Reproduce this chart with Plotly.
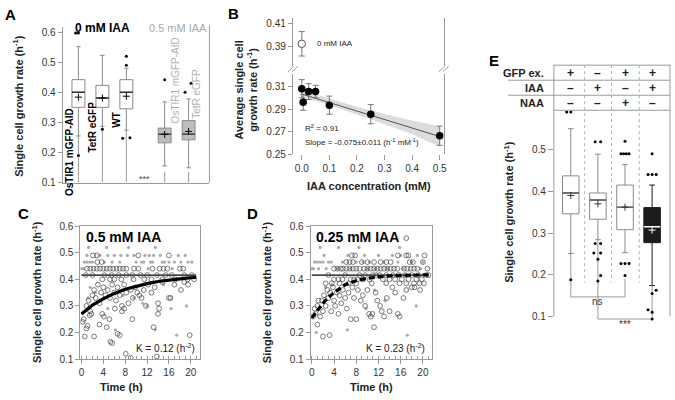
import plotly.graph_objects as go

W, H = 675, 400
FONT = "Liberation Sans, Arial, sans-serif"
AX = "#9a9a9a"

# %% panel A: box statistics (0 mM IAA vs 0.5 mM IAA)
a_pos = [1, 2, 3, 4.6, 5.6]
a_q1 = [0.350, 0.350, 0.345, 0.232, 0.242]
a_med = [0.400, 0.381, 0.400, 0.261, 0.261]
a_q3 = [0.442, 0.423, 0.442, 0.281, 0.306]
a_lo = [0.255, 0.287, 0.274, 0.155, 0.149]
a_hi = [0.552, 0.523, 0.480, 0.368, 0.378]
a_mean = [0.384, 0.381, 0.387, 0.260, 0.270]
a_out_x = [0.88, 1.0, 1.0, 2.0, 3.0, 3.0, 2.85, 3.15, 4.6, 5.45, 5.7]
a_out_y = [0.597, 0.597, 0.19, 0.277, 0.52, 0.49, 0.247, 0.249, 0.442, 0.40, 0.43]

# %% panel B: average growth rate vs IAA concentration
b_conc = [0, 0.005, 0.025, 0.05, 0.1, 0.25, 0.5]
b_rate = [0.308, 0.296, 0.3055, 0.3055, 0.2935, 0.2855, 0.2665]
b_err = [0.008, 0.007, 0.007, 0.0055, 0.008, 0.0085, 0.0085]
b_ctrl_rate = [0.3925]
b_ctrl_err = [0.0105]
b_fit_x = [0, 0.5]
b_fit_y = [0.3033, 0.2658]
b_band_x = [0, 0.05, 0.1, 0.2, 0.3, 0.4, 0.5]
b_band_hi = [0.3068, 0.3029, 0.2993, 0.2921, 0.2856, 0.2799, 0.2748]
b_band_lo = [0.2998, 0.2969, 0.2937, 0.2851, 0.2766, 0.2679, 0.2568]

# %% panel C: 0.5 mM IAA single cells over time
c_open_t = [1.0, 1.6, 2.2, 2.8, 3.4, 4.0, 4.6, 5.2, 5.8, 6.4, 7.0, 7.6, 8.2, 9.6, 10.4, 13.0, 14.3, 15.0, 15.7, 18.0, 18.6,
            2.1, 2.8, 10.4, 16.0, 2.9, 3.7,
            0.8, 2.0, 4.2, 5.5, 6.8, 8.2, 9.3, 10.8, 12.0, 13.8, 15.4, 16.5, 18.8, 20.2,
            3.8, 5.2, 6.0, 7.3, 9.5, 11.5, 12.8, 14.8, 17.2, 19.4, 20.6,
            0.9, 1.3, 1.6, 2.0, 2.3, 2.6, 3.0, 3.3, 3.6, 4.0, 4.4, 4.8, 5.2, 5.6, 6.0, 6.3, 6.6, 7.0, 7.4, 7.8,
            8.2, 8.6, 9.0, 9.4, 9.8, 10.2, 10.6, 11.0, 11.4, 11.8, 12.2, 12.8, 13.4, 14.0, 14.2, 14.8, 16.0,
            16.3, 17.0, 18.2, 18.8, 19.5,
            0.2, 0.4, 0.6, 0.9, 1.1, 1.5, 1.8, 2.3, 3.3, 3.8, 4.1, 4.6, 5.1, 5.3, 5.6, 6.1, 6.6, 7.0, 7.4,
            7.8, 8.1, 9.0, 9.3, 13.2, 13.8, 14.0, 19.8]
c_open_v = [0.44, 0.44, 0.44, 0.44, 0.44, 0.44, 0.44, 0.44, 0.44, 0.44, 0.44, 0.44, 0.44, 0.44, 0.44, 0.44, 0.44, 0.44,
            0.44, 0.44, 0.44,
            0.49, 0.49, 0.49, 0.49, 0.465, 0.465,
            0.416, 0.416, 0.416, 0.416, 0.416, 0.416, 0.416, 0.416, 0.416, 0.416, 0.416, 0.416, 0.416, 0.416,
            0.40, 0.40, 0.40, 0.40, 0.40, 0.40, 0.40, 0.40, 0.40, 0.40, 0.40,
            0.30, 0.32, 0.28, 0.34, 0.36, 0.33, 0.38, 0.31, 0.35, 0.37, 0.34, 0.36, 0.33, 0.38, 0.35, 0.32, 0.37,
            0.34, 0.30, 0.38, 0.35, 0.31, 0.36, 0.33, 0.37, 0.35, 0.34, 0.33, 0.36, 0.30, 0.38, 0.35, 0.37, 0.31,
            0.29, 0.39, 0.33, 0.33, 0.38, 0.36, 0.39, 0.38,
            0.24, 0.25, 0.185, 0.215, 0.225, 0.265, 0.27, 0.185, 0.23, 0.27, 0.26, 0.22, 0.25, 0.165, 0.16, 0.29,
            0.195, 0.19, 0.28, 0.29, 0.12, 0.105, 0.25, 0.22, 0.11, 0.27, 0.19]
c_gray_t = [1.3, 4.6, 8.6, 13.5,
            1.0, 3.4, 4.8, 6.0, 7.2, 8.4, 9.6, 11.6, 12.4, 13.2, 14.4, 17.7, 19.0,
            0.5, 1.0, 1.5, 2.0, 4.2, 5.6, 7.0, 10.0, 11.0, 11.4, 12.6, 13.0, 14.8, 15.2, 16.0, 17.0, 18.2, 19.5, 20.2,
            0.0, 0.4, 12.2, 16.6,
            1.6, 1.2, 2.5, 4.8, 6.2, 7.6, 9.6, 11.2, 12.0, 13.5, 15.0, 16.4, 17.4, 19.2]
c_gray_v = [0.52, 0.52, 0.52, 0.52,
            0.49, 0.49, 0.49, 0.49, 0.49, 0.49, 0.49, 0.49, 0.49, 0.49, 0.49, 0.49, 0.49,
            0.465, 0.465, 0.465, 0.465, 0.465, 0.465, 0.465, 0.465, 0.465, 0.465, 0.465, 0.465, 0.465, 0.465,
            0.465, 0.465, 0.465, 0.465, 0.465,
            0.44, 0.44, 0.44, 0.44,
            0.37, 0.33, 0.35, 0.29, 0.21, 0.34, 0.33, 0.31, 0.30, 0.21, 0.38, 0.29, 0.19, 0.30]
c_fit_t = [0, 2, 4, 6, 8, 10, 12, 14, 16, 18, 20, 21]
c_fit_v = [0.270, 0.303, 0.327, 0.347, 0.363, 0.375, 0.384, 0.392, 0.398, 0.402, 0.406, 0.407]
c_ref = 0.416

# %% panel D: 0.25 mM IAA single cells over time
d_open_t = [7.2, 7.8, 15.5, 17.0, 17.4, 20.3,
            6.2, 6.8, 7.4, 9.0, 10.0, 11.2, 12.4, 13.4, 14.2, 17.6, 18.2, 20.0,
            4.0, 4.6, 5.2, 5.6, 6.2, 6.8, 7.4, 8.0, 8.6, 9.4, 10.0, 10.6, 11.2, 11.8, 12.4, 13.0, 13.6, 14.2,
            14.8, 15.4, 16.6, 17.2, 17.8, 18.4, 19.0, 20.8,
            3.0, 6.0, 8.6, 9.6, 11.0, 11.6, 12.2, 13.4, 14.6, 15.6, 16.8, 18.0, 19.2, 20.6, 21.0,
            4.0, 4.8, 5.5, 7.0, 7.6, 8.2, 9.2, 10.4, 12.8, 14.0, 15.0, 16.2, 17.4, 18.8, 19.8,
            2.5, 3.6, 5.0, 6.6, 8.0, 10.8, 13.4, 15.8, 17.0, 18.4, 19.4, 20.2,
            0.2, 0.5, 0.7, 1.0, 1.2, 1.5, 1.8, 2.0, 2.2, 2.5, 2.8, 3.0, 3.3, 3.5, 3.8, 4.0, 4.2, 4.5, 4.8,
            5.0, 5.3, 5.6, 6.0, 6.3, 6.6, 7.0, 7.3, 7.6, 8.0, 8.3, 8.8, 9.2, 9.6, 10.0, 10.3, 10.6, 10.9,
            11.2, 11.5, 11.8, 12.3, 12.6, 13.0, 13.5, 14.0, 14.5, 15.0, 15.5, 15.8, 16.5, 17.0, 18.0, 18.5,
            19.5, 1.0, 2.0, 3.2, 17.0]
d_open_v = [0.49, 0.49, 0.49, 0.49, 0.49, 0.49,
            0.465, 0.465, 0.465, 0.465, 0.465, 0.465, 0.465, 0.465, 0.465, 0.465, 0.465, 0.465,
            0.44, 0.44, 0.44, 0.44, 0.44, 0.44, 0.44, 0.44, 0.44, 0.44, 0.44, 0.44, 0.44, 0.44, 0.44, 0.44,
            0.44, 0.44, 0.44, 0.44, 0.44, 0.44, 0.44, 0.44, 0.44, 0.44,
            0.416, 0.416, 0.416, 0.416, 0.416, 0.416, 0.416, 0.416, 0.416, 0.416, 0.416, 0.416, 0.416, 0.416,
            0.416,
            0.40, 0.40, 0.40, 0.40, 0.40, 0.40, 0.40, 0.40, 0.40, 0.40, 0.40, 0.40, 0.40, 0.40, 0.40,
            0.385, 0.385, 0.385, 0.385, 0.385, 0.385, 0.385, 0.385, 0.385, 0.385, 0.385, 0.385,
            0.26, 0.29, 0.27, 0.30, 0.32, 0.26, 0.32, 0.28, 0.34, 0.30, 0.36, 0.33, 0.35, 0.28, 0.37, 0.32,
            0.30, 0.35, 0.27, 0.34, 0.31, 0.36, 0.33, 0.29, 0.35, 0.25, 0.37, 0.33, 0.25, 0.36, 0.32, 0.34,
            0.30, 0.36, 0.27, 0.26, 0.27, 0.22, 0.35, 0.32, 0.30, 0.28, 0.26, 0.33, 0.28, 0.37, 0.35, 0.27,
            0.26, 0.33, 0.36, 0.37, 0.37, 0.36, 0.23, 0.185, 0.19, 0.555]
d_gray_t = [1.5, 4.8, 8.5, 15.8,
            2.2, 6.5, 9.5, 12.0, 14.5, 16.0, 19.0,
            0.5, 1.0, 1.5, 2.0, 3.0, 3.5, 5.5, 8.0, 9.2, 10.4, 13.0, 15.5, 18.0, 20.0,
            0.0, 0.3, 1.2, 2.6, 4.6, 7.0, 10.0, 11.5, 13.6, 16.4, 19.6,
            0.8, 2.5, 3.6, 6.4, 9.8, 11.3, 13.2, 17.2, 18.8]
d_gray_v = [0.52, 0.52, 0.52, 0.52,
            0.49, 0.49, 0.49, 0.49, 0.49, 0.49, 0.49,
            0.465, 0.465, 0.465, 0.465, 0.465, 0.465, 0.465, 0.465, 0.465, 0.465, 0.465, 0.465, 0.465, 0.465,
            0.44, 0.44, 0.44, 0.44, 0.44, 0.44, 0.44, 0.44, 0.44, 0.44, 0.44,
            0.20, 0.37, 0.38, 0.21, 0.29, 0.36, 0.32, 0.19, 0.30]
d_fit_t = [0, 1, 2, 3, 4, 6, 8, 10, 12, 14, 16, 18, 20, 21]
d_fit_v = [0.255, 0.285, 0.310, 0.332, 0.350, 0.380, 0.395, 0.404, 0.410, 0.413, 0.415, 0.416, 0.417, 0.417]
d_ref = 0.416

# %% panel E: box statistics for the four conditions
e_pos = [1, 2, 3, 4]
e_q1 = [0.346, 0.333, 0.308, 0.277]
e_med = [0.396, 0.379, 0.362, 0.315]
e_q3 = [0.437, 0.396, 0.415, 0.361]
e_lo = [0.251, 0.284, 0.253, 0.174]
e_hi = [0.550, 0.489, 0.464, 0.415]
e_mean = [0.390, 0.370, 0.362, 0.307]
e_out_x = [0.85, 1.0, 1.0,
           1.9, 2.1, 1.9, 2.1, 1.85, 2.1, 2.0, 2.1, 2.0,
           3.0, 2.85, 2.95, 3.05, 3.15, 2.85, 3.0, 3.15, 3.0,
           4.0, 3.85, 4.0, 4.15, 4.15, 4.0, 3.85, 4.0, 4.0]
e_out_y = [0.59, 0.59, 0.188,
           0.519, 0.519, 0.275, 0.275, 0.252, 0.252, 0.237, 0.198, 0.185,
           0.52, 0.49, 0.49, 0.49, 0.49, 0.227, 0.227, 0.227, 0.198,
           0.49, 0.44, 0.44, 0.44, 0.163, 0.155, 0.116, 0.11, 0.094]
e_rows = ["GFP ex.", "IAA", "NAA"]
e_signs = [["+", "–", "+", "+"],
           ["–", "+", "–", "+"],
           ["–", "–", "+", "–"]]


def px(x):
    return x / W


def py(y):
    return 1 - y / H


fig = go.Figure()


def boxes(pos, q1, med, q3, lo, hi, mean, xa, ya, fills, lines, meds, marks, width):
    for i in range(len(pos)):
        fig.add_trace(go.Box(x=[pos[i]], q1=[q1[i]], median=[med[i]], q3=[q3[i]],
                             lowerfence=[lo[i]], upperfence=[hi[i]], width=width,
                             whiskerwidth=0.35, fillcolor=fills[i],
                             line=dict(color=lines[i], width=1),
                             xaxis=xa, yaxis=ya, hoverinfo="skip"))
        fig.add_trace(go.Scatter(x=[pos[i] - width / 2, pos[i] + width / 2], y=[med[i], med[i]],
                                 mode="lines", line=dict(color=meds[i], width=1.4),
                                 xaxis=xa, yaxis=ya))
        fig.add_trace(go.Scatter(x=[pos[i]], y=[mean[i]], mode="markers",
                                 marker=dict(symbol="cross-thin", size=5,
                                             line=dict(color=marks[i], width=1)),
                                 xaxis=xa, yaxis=ya))


def seg(xs, ys, xa, ya, color=AX, width=1, dash=None):
    fig.add_trace(go.Scatter(x=xs, y=ys, mode="lines", line=dict(color=color, width=width, dash=dash),
                             xaxis=xa, yaxis=ya, hoverinfo="skip"))


# ---- A
for i in range(5):
    top = a_lo[i] if i < 3 else 0.135
    seg([a_pos[i], a_pos[i]], [0.1, top], "x", "y")
boxes(a_pos, a_q1, a_med, a_q3, a_lo, a_hi, a_mean, "x", "y",
      ["white"] * 3 + ["#bdbdbd"] * 2, ["#8a8a8a"] * 5, ["#333333"] * 5, ["black"] * 5, 0.54)
fig.add_trace(go.Scatter(x=a_out_x, y=a_out_y, mode="markers",
                         marker=dict(size=3, color="black"), xaxis="x", yaxis="y"))

# ---- B
fig.add_trace(go.Scatter(x=b_band_x + b_band_x[::-1], y=b_band_hi + b_band_lo[::-1], fill="toself",
                         fillcolor="#dcdcdc", line=dict(width=0), mode="lines", xaxis="x2", yaxis="y2"))
seg(b_fit_x, b_fit_y, "x2", "y2", color="#555555", width=1)
fig.add_trace(go.Scatter(x=b_conc, y=b_rate, mode="markers",
                         error_y=dict(type="data", array=b_err, color="#777777", thickness=1, width=3),
                         marker=dict(size=7.5, color="black"), xaxis="x2", yaxis="y2"))
fig.add_trace(go.Scatter(x=[0], y=b_ctrl_rate, mode="markers",
                         error_y=dict(type="data", array=b_ctrl_err, color="#777777", thickness=1, width=3),
                         marker=dict(size=7.5, color="white", line=dict(color="#555555", width=1)),
                         xaxis="x2", yaxis="y3"))

# ---- C and D
for t_g, v_g, t_o, v_o, ft, fv, ref, xa, ya, dash in [
        (c_gray_t, c_gray_v, c_open_t, c_open_v, c_fit_t, c_fit_v, c_ref, "x3", "y4", None),
        (d_gray_t, d_gray_v, d_open_t, d_open_v, d_fit_t, d_fit_v, d_ref, "x4", "y5", "6px,3px")]:
    fig.add_trace(go.Scatter(x=t_g, y=v_g, mode="markers", marker=dict(size=3.2, color="#ababab"),
                             xaxis=xa, yaxis=ya))
    seg([0, 21], [ref, ref], xa, ya, color="black", width=1.3)
    fig.add_trace(go.Scatter(x=t_o, y=v_o, mode="markers",
                             marker=dict(symbol="circle-open", size=4.8, color="#444444",
                                         line=dict(width=0.7)), xaxis=xa, yaxis=ya))
    seg(ft, fv, xa, ya, color="black", width=3.2, dash=dash)

# ---- E
seg([1, 1, 3, 3], [e_lo[0], 0.147, 0.147, 0.19], "x5", "y6")
seg([2, 2, 4, 4], [e_lo[1], 0.094, 0.094, e_lo[3]], "x5", "y6")
boxes(e_pos, e_q1, e_med, e_q3, e_lo, e_hi, e_mean, "x5", "y6",
      ["white"] * 3 + ["#1c1c1c"], ["#8a8a8a"] * 3 + ["#1c1c1c"],
      ["#555555"] * 3 + ["white"], ["#333333"] * 3 + ["white"], 0.61)
fig.add_trace(go.Scatter(x=e_out_x, y=e_out_y, mode="markers",
                         marker=dict(size=3, color="black"), xaxis="x5", yaxis="y6"))

tick_font = dict(family=FONT, size=10, color="#333333")
base = dict(showgrid=False, zeroline=False, tickfont=tick_font, ticklen=4, tickcolor=AX, linecolor=AX,
            linewidth=1)

layout = dict(
    width=W, height=H, margin=dict(l=0, r=0, t=0, b=0), autosize=False,
    paper_bgcolor="white", plot_bgcolor="white", showlegend=False,
    font=dict(family=FONT, color="#222222"),
    xaxis=dict(base, domain=[px(61), px(209)], range=[0.337, 6.47], showticklabels=False,
               showline=True, ticks="", anchor="y"),
    yaxis=dict(base, domain=[py(182), py(22)], range=[0.1, 0.616], tickvals=[0.1, 0.2, 0.3, 0.4, 0.5, 0.6],
               tickformat=".1f", showline=True, ticks="outside", anchor="x"),
    xaxis2=dict(base, domain=[px(293), px(445)], range=[-0.0324, 0.5144],
                tickvals=[0, 0.1, 0.2, 0.3, 0.4, 0.5], tickformat=".1f", ticks="outside", ticklen=5,
                showline=False, anchor="y2"),
    yaxis2=dict(base, domain=[py(153), py(70)], range=[0.25, 0.3211], tickvals=[0.25, 0.27, 0.29, 0.31],
                tickformat=".2f", ticks="outside", showline=True, mirror=True, anchor="x2"),
    yaxis3=dict(base, domain=[py(62), py(12)], range=[0.3733, 0.415], tickvals=[0.39, 0.41],
                tickformat=".2f", ticks="outside", showline=True, mirror=True, anchor="x2"),
    xaxis3=dict(base, domain=[px(79), px(199)], range=[-0.2, 21.6], tickvals=[0, 4, 8, 12, 16, 20],
                ticks="outside", showline=True, mirror=True, anchor="y4",
                minor=dict(dtick=1, tick0=0, ticks="inside", ticklen=3, tickcolor=AX)),
    yaxis4=dict(base, domain=[py(364), py(227)], range=[0.1, 0.6], tickvals=[0.1, 0.2, 0.3, 0.4, 0.5, 0.6],
                tickformat=".1f", ticks="outside", showline=True, mirror=True, anchor="x3"),
    xaxis4=dict(base, domain=[px(311), px(433)], range=[-0.2, 21.6], tickvals=[0, 4, 8, 12, 16, 20],
                ticks="outside", showline=True, mirror=True, anchor="y5",
                minor=dict(dtick=1, tick0=0, ticks="inside", ticklen=3, tickcolor=AX)),
    yaxis5=dict(base, domain=[py(364), py(227)], range=[0.1, 0.6], tickvals=[0.1, 0.2, 0.3, 0.4, 0.5, 0.6],
                tickformat=".1f", ticks="outside", showline=True, mirror=True, anchor="x4"),
    xaxis5=dict(base, domain=[px(556), px(673)], range=[0.377, 4.66], showticklabels=False, ticks="",
                showline=False, anchor="y6"),
    yaxis6=dict(base, domain=[py(333), py(105)], range=[0.07, 0.6], tickvals=[0.1, 0.2, 0.3, 0.4, 0.5],
                tickformat=".1f", ticks="outside", ticklen=5, showline=False, anchor="x5"),
)
fig.update_layout(**layout)


def pline(x0, y0, x1, y1, color=AX, width=1, dash=None):
    fig.add_shape(type="line", xref="paper", yref="paper", x0=px(x0), y0=py(y0), x1=px(x1), y1=py(y1),
                  line=dict(color=color, width=width, dash=dash))


# A separator line, B axis breaks, E table frame
pline(209, 20, 209, 182)
for bx in (293, 445):
    fig.add_shape(type="rect", xref="paper", yref="paper", x0=px(bx - 2), x1=px(bx + 2), y0=py(69), y1=py(62),
                  line=dict(width=0), fillcolor="white")
    pline(bx - 5, 68, bx + 1, 62)
    pline(bx - 1, 68, bx + 5, 62)
pline(556, 61, 556, 320)
pline(673, 61, 673, 320)
pline(556, 61, 673, 61)
pline(510, 76.5, 673, 76.5)
pline(510, 92, 673, 92)
pline(556, 107.5, 673, 107.5)
for sx in (587, 614, 642):
    pline(sx, 61, sx, 285, color="#b0b0b0", dash="dot")


def note(text, x, y, size=10, color="#222222", bold=False, angle=0, xanchor="center"):
    if bold:
        text = "<b>" + text + "</b>"
    fig.add_annotation(text=text, x=px(x), y=py(y), xref="paper", yref="paper", showarrow=False,
                       textangle=angle, xanchor=xanchor, yanchor="middle",
                       font=dict(family=FONT, size=size, color=color))


# panel letters
for lab, x, y in [("A", 9, 9), ("B", 233, 8), ("C", 22, 214), ("D", 252, 214), ("E", 496, 56)]:
    note(lab, x, y, size=15, color="black", bold=True)

ylab = "Single cell growth rate (h<sup>-1</sup>)"
note(ylab, 16, 103, size=11, bold=True, angle=-90)
note(ylab, 35, 295, size=11, bold=True, angle=-90)
note(ylab, 267, 295, size=11, bold=True, angle=-90)
note(ylab, 510, 212, size=11, bold=True, angle=-90)

# A texts
note("0 mM IAA", 101, 23, size=12, color="black", bold=True)
note("0.5 mM IAA", 177, 23, size=11, color="#a8a8a8")
note("OsTIR1 mGFP-AID", 68, 150, size=10, color="black", bold=True, angle=-90)
note("TetR eGFP", 91, 125, size=10, color="black", bold=True, angle=-90)
note("WT", 115, 117, size=10, color="black", bold=True, angle=-90)
note("OsTIR1 mGFP-AID", 175, 77, size=10, color="#b0b0b0", angle=-90)
note("TetR eGFP", 196, 91, size=10, color="#b0b0b0", angle=-90)
note("***", 144, 178, size=9, color="#444444")

# B texts
note("Average single cell<br>growth rate (h<sup>-1</sup>)", 246, 87, size=11, bold=True, angle=-90)
note("IAA concentration (mM)", 370, 186, size=11, bold=True)
note("0 mM IAA", 315, 39, size=8, xanchor="left")
note("R<sup>2</sup> = 0.91", 303, 126, size=8, xanchor="left")
note("Slope = -0.075±0.011 (h<sup>-1</sup> mM<sup>-1</sup>)", 303, 140, size=8, xanchor="left")

# C / D texts
note("0.5 mM IAA", 122, 238, size=14, color="black", bold=True)
note("K = 0.12 (h<sup>-2</sup>)", 196, 353, size=10, xanchor="right")
note("Time (h)", 120, 393, size=11, bold=True)
note("0.25 mM IAA", 358, 238, size=14, color="black", bold=True)
note("K = 0.23 (h<sup>-2</sup>)", 428, 353, size=10, xanchor="right")
note("Time (h)", 372, 393, size=11, bold=True)

# E table and significance marks
for r, (lab, yy) in enumerate(zip(e_rows, [68.75, 84.25, 99.75])):
    note(lab, 548, yy, size=11, color="#222222", bold=True, xanchor="right")
    for c in range(4):
        fig.add_annotation(text="<b>" + e_signs[r][c] + "</b>", x=e_pos[c], y=py(yy), xref="x5",
                           yref="paper", showarrow=False, yanchor="middle",
                           font=dict(family=FONT, size=12, color="#222222"))
fig.add_annotation(text="ns", x=2, y=0.135, xref="x5", yref="y6", showarrow=False,
                   font=dict(family=FONT, size=10, color="#333333"))
fig.add_annotation(text="***", x=3, y=0.08, xref="x5", yref="y6", showarrow=False,
                   font=dict(family=FONT, size=10, color="#333333"))

fig.write_html("out.html", config={"displayModeBar": False},
               post_script="document.body.style.margin='0';")
